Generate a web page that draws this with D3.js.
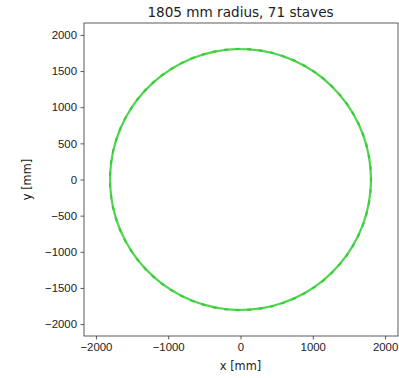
<!DOCTYPE html>
<html>
<head>
<meta charset="utf-8">
<script src="https://cdn.jsdelivr.net/npm/d3@7"></script>
<style>
  body { margin: 0; background: #fff; }
  svg { display: block; font-family: "DejaVu Sans", sans-serif; }
</style>
</head>
<body>
<svg id="chart" width="399" height="378"></svg>
<script>
// chart values
const radiusMm = [1805];
const staveCount = [71];
const staveOverhangMm = [28];
const xTicks = [-2000, -1000, 0, 1000, 2000];
const yTicks = [-2000, -1500, -1000, -500, 0, 500, 1000, 1500, 2000];
const titleText = ["1805 mm radius, 71 staves"];

const svg = d3.select("#chart");
const plot = { left: 84, right: 398, top: 23, bottom: 336 };
const lim = 2165;

const xScale = d3.scaleLinear().domain([-lim, lim]).range([plot.left, plot.left + (plot.bottom - plot.top)]);
const yScale = d3.scaleLinear().domain([-lim, lim]).range([plot.bottom, plot.top]);

const fmt = (d) => (d < 0 ? "\u2212" + Math.abs(d) : String(d));

// Staves: straight planks between joints on the circle, slightly overhanging
const r = radiusMm[0], n = staveCount[0], ov = staveOverhangMm[0];
const staves = d3.range(n).map((i) => {
  const a0 = (i / n) * 2 * Math.PI, a1 = ((i + 1) / n) * 2 * Math.PI;
  const x0 = r * Math.cos(a0), y0 = r * Math.sin(a0);
  const x1 = r * Math.cos(a1), y1 = r * Math.sin(a1);
  const len = Math.hypot(x1 - x0, y1 - y0);
  const ux = (x1 - x0) / len, uy = (y1 - y0) / len;
  return { x0: x0 - ux * ov, y0: y0 - uy * ov, x1: x1 + ux * ov, y1: y1 + uy * ov };
});

svg.append("clipPath").attr("id", "clip")
  .append("rect")
  .attr("x", plot.left).attr("y", plot.top)
  .attr("width", plot.right - plot.left).attr("height", plot.bottom - plot.top);

svg.append("g")
  .attr("clip-path", "url(#clip)")
  .selectAll("line.stave")
  .data(staves)
  .join("line")
  .attr("class", "stave")
  .attr("x1", (d) => xScale(d.x0))
  .attr("y1", (d) => yScale(d.y0))
  .attr("x2", (d) => xScale(d.x1))
  .attr("y2", (d) => yScale(d.y1))
  .attr("stroke", "#32cd32")
  .attr("stroke-opacity", 0.85)
  .attr("stroke-width", 2.2)
  .attr("stroke-linecap", "butt");

// X-axis
const gx = svg.append("g")
  .attr("transform", `translate(0, ${plot.bottom})`)
  .call(d3.axisBottom(xScale).tickValues(xTicks).tickFormat(fmt).tickSize(3.5).tickPadding(3.5));
gx.select(".domain").remove();
gx.selectAll("line").attr("stroke", "#333").attr("stroke-width", 0.8);
gx.selectAll("text").style("font-size", "11.4px").attr("fill", "#222");

// Y-axis
const gy = svg.append("g")
  .attr("transform", `translate(${plot.left}, 0)`)
  .call(d3.axisLeft(yScale).tickValues(yTicks).tickFormat(fmt).tickSize(3.5).tickPadding(3.5));
gy.select(".domain").remove();
gy.selectAll("line").attr("stroke", "#333").attr("stroke-width", 0.8);
gy.selectAll("text").style("font-size", "11.4px").attr("fill", "#222");

// Frame
svg.append("rect")
  .attr("x", plot.left).attr("y", plot.top)
  .attr("width", plot.right - plot.left).attr("height", plot.bottom - plot.top)
  .attr("fill", "none").attr("stroke", "#333").attr("stroke-width", 0.8);

// Labels
svg.append("text")
  .attr("x", xScale(0)).attr("y", 370)
  .attr("text-anchor", "middle")
  .style("font-size", "11.4px").attr("fill", "#222")
  .text("x [mm]");

svg.append("text")
  .attr("transform", `translate(31, ${yScale(0)}) rotate(-90)`)
  .attr("text-anchor", "middle")
  .style("font-size", "11.4px").attr("fill", "#222")
  .text("y [mm]");

svg.append("text")
  .attr("x", xScale(0)).attr("y", 17)
  .attr("text-anchor", "middle")
  .style("font-size", "13.6px").attr("fill", "#222")
  .text(titleText[0]);
</script>
</body>
</html>
